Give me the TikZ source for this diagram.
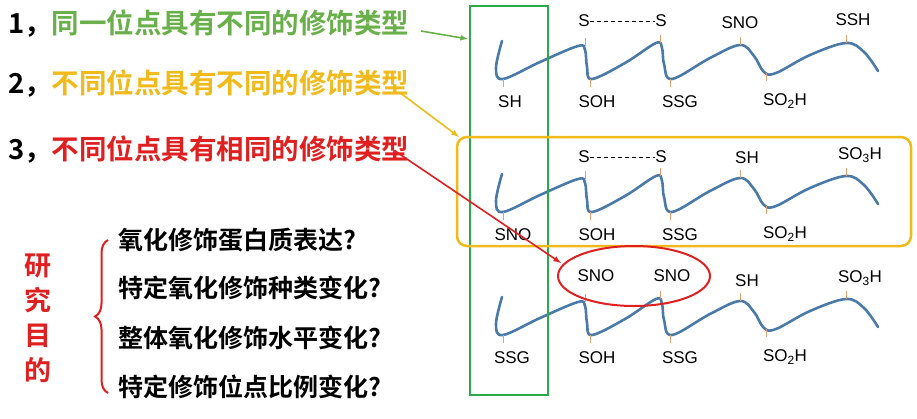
\documentclass[tikz,border=0pt]{standalone}
\usepackage{fontspec}
\setmainfont{Liberation Sans}
\newfontfamily\cjk{Noto Sans CJK SC}[BoldFont={* Bold}]
\usetikzlibrary{decorations.pathreplacing}
\definecolor{wave}{HTML}{4A7AA8}
\definecolor{tick}{HTML}{E0A070}
\definecolor{gr}{HTML}{2BAA4A}
\definecolor{ye}{HTML}{F0BA1A}
\definecolor{rd}{HTML}{E02020}
\definecolor{armG}{HTML}{6AB04A}
\tikzset{
 lab/.style={font=\fontsize{17}{17}\selectfont, inner sep=0pt},
 cj/.style={font=\cjk\bfseries\fontsize{27.5}{28}\selectfont, anchor=west, inner sep=0pt},
 q/.style={font=\cjk\bfseries\fontsize{25}{25}\selectfont, anchor=west, inner sep=0pt},
 tk/.style={tick, line width=1pt},
 wv/.style={wave, line width=2.6pt, line cap=round},
 arr/.style={line width=1.6pt, -latex},
}
\newcommand{\wavepath}[1]{%
\draw[wv, yshift=#1] plot[smooth, tension=0.6] coordinates {(502,41) (496,68) (503,79) (540,62) (578,46) (585,50) (587,67) (592,79) (625,63) (656,43) (662,48) (664,64) (672,79) (710,58) (740,45) (754,56) (764,72) (776,73) (810,55) (846,43) (864,52) (878,71)};
\foreach \x/\y in {503/79,590/79,670/79,766/73}{\draw[tk,yshift=#1] (\x,\y)--(\x,\y+8);}
}
\begin{document}
\begin{tikzpicture}[x=1pt,y=-1pt]
\useasboundingbox (0,0) rectangle (917,418);
\fill[white] (0,0) rectangle (917,418);
\wavepath{0}
\wavepath{-133}
\wavepath{-256}
\foreach \x/\y/\d in {585/46/0,660/43/0,740/45/0,846/43/0, 585/46/133,660/43/133,740/45/133,846/43/133, 585/46/256,660/43/256,740/45/256,846/43/256}{\draw[tk] (\x,\y+\d)--(\x,\y+\d-8);}
% row 1 labels
\node[lab] (a1) at (584,21) {S};
\node[lab] (a2) at (661,21) {S};
\draw[line width=0.9pt, dash pattern=on 4pt off 3pt] (a1.east)--(a2.west);
\node[lab] at (740,23) {SNO};
\node[lab] at (853,20) {SSH};
\node[lab] at (510,102) {SH};
\node[lab] at (597,102) {SOH};
\node[lab] at (680,102) {SSG};
\node[lab] at (785,101) {SO\textsubscript{2}H};
% row 2
\node[lab] (b1) at (584,157) {S};
\node[lab] (b2) at (661,157) {S};
\draw[line width=0.9pt, dash pattern=on 4pt off 3pt] (b1.east)--(b2.west);
\node[lab] at (747,158) {SH};
\node[lab] at (860,155) {SO\textsubscript{3}H};
\node[lab] at (513,235) {SNO};
\node[lab] at (597,235) {SOH};
\node[lab] at (680,235) {SSG};
\node[lab] at (785,234) {SO\textsubscript{2}H};
% row 3
\node[lab] at (596,276) {SNO};
\node[lab] at (672,276) {SNO};
\node[lab] at (747,281) {SH};
\node[lab] at (860,278) {SO\textsubscript{3}H};
\node[lab] at (512,358) {SSG};
\node[lab] at (597,358) {SOH};
\node[lab] at (680,358) {SSG};
\node[lab] at (785,357) {SO\textsubscript{2}H};
% frames
\draw[gr, line width=2.5pt] (470,6) rectangle (548,395);
\draw[ye, line width=2.5pt, rounded corners=10pt] (457,137) rectangle (911,246);
\draw[rd, line width=2pt] (634,276) ellipse (76 and 30);
% left texts
\node[cj] (t1) at (8,24) {1，\textcolor{armG}{同一位点具有不同的修饰类型}};
\node[cj] (t2) at (8,84) {2，\textcolor{ye}{不同位点具有不同的修饰类型}};
\node[cj] (t3) at (8,150) {3，\textcolor{rd}{不同位点具有相同的修饰类型}};
\draw[armG, arr] (421,31)--(468,39);
\draw[ye, arr] (399,92)--(459,137);
\draw[rd, arr] (395,151)--(561,263);
% purpose
\node[font=\cjk\bfseries\fontsize{27}{27}\selectfont, text=rd, align=center, inner sep=0pt] (p) at (38,318) {研\\[8pt]究\\[8pt]目\\[8pt]的};
\draw[rd, line width=2pt, decorate, decoration={brace, amplitude=13pt}] (108,393)--(108,240);
\node[q] at (118,240) {氧化修饰蛋白质表达?};
\node[q] at (118,288) {特定氧化修饰种类变化?};
\node[q] at (118,338) {整体氧化修饰水平变化?};
\node[q] at (118,387) {特定修饰位点比例变化?};
\end{tikzpicture}
\end{document}
